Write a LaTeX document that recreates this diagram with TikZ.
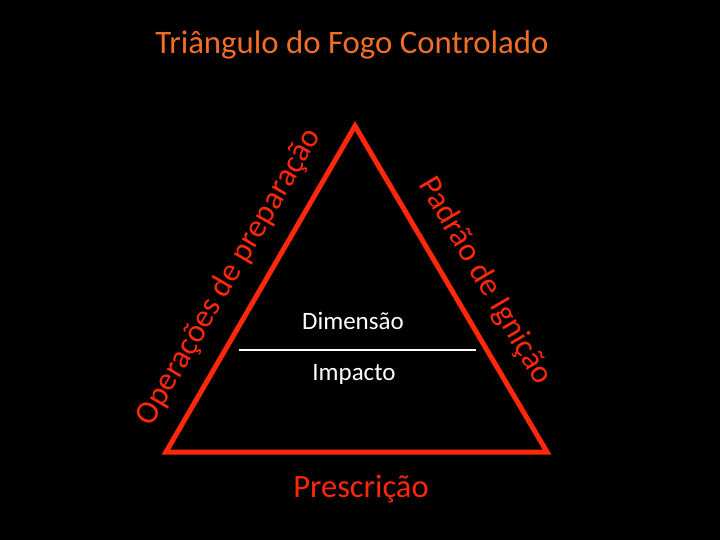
\documentclass[tikz,border=0pt]{standalone}
\usepackage{fontspec}
\setmainfont{Carlito}
\definecolor{titleor}{RGB}{240,110,40}
\definecolor{firered}{RGB}{255,40,10}
\begin{document}
\begin{tikzpicture}[x=1pt,y=-1pt,
  sidelabel/.style={text=firered,font=\fontsize{32.5}{36}\selectfont,inner sep=0pt},
  inner/.style={text=white,font=\fontsize{25}{29}\selectfont,inner sep=0pt}]
\fill[black] (0,0) rectangle (720,540);
\useasboundingbox (0,0) rectangle (720,540);
\node[text=titleor,font=\fontsize{32.8}{36}\selectfont,inner sep=0pt] (title) at (352,45) {Triângulo do Fogo Controlado};
\coordinate (A) at (355,126);
\coordinate (B) at (166,452);
\coordinate (C) at (547,452);
\draw[firered,line width=5pt,line join=miter] (A) -- (B) -- (C) -- cycle;
\node[sidelabel,rotate=59.8] (left) at (229,277) {Operações de preparação};
\node[sidelabel,rotate=-59.5] (right) at (485,281) {Padrão de Ignição};
\node[sidelabel] (bottom) at (361,489) {Prescrição};
\node[inner] (dim) at (353,321) {Dimensão};
\node[inner] (imp) at (354,374) {Impacto};
\coordinate (l1) at (239,350);
\coordinate (l2) at (476,350);
\draw[white,line width=1.3pt] (l1) -- (l2);
\end{tikzpicture}
\end{document}
